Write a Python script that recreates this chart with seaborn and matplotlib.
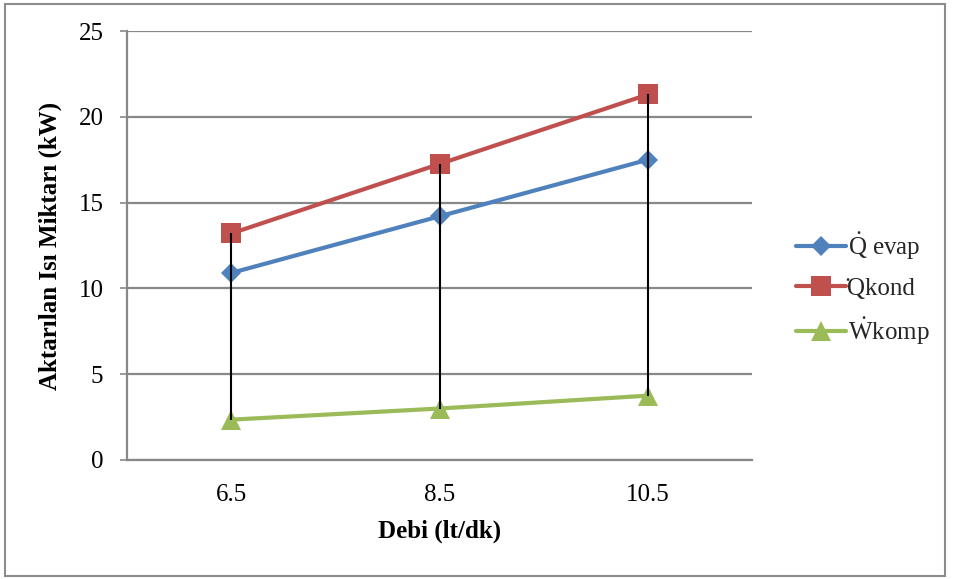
import matplotlib
matplotlib.use("Agg")
import matplotlib.pyplot as plt
import seaborn as sns
import pandas as pd
from matplotlib.patches import Rectangle

categories = ["6.5", "8.5", "10.5"]
q_evap = [10.9, 14.2, 17.5]
q_kond = [13.2, 17.25, 21.3]
w_komp = [2.35, 3.0, 3.75]
series_names = [r"$\mathrm{\dot{Q}}$ evap", "\u0307Qkond", r"$\mathrm{\dot{W}}$komp"]
y_ticks = [0, 5, 10, 15, 20, 25]

sns.set_theme(style="white")
plt.rcParams["font.family"] = ["Liberation Serif", "DejaVu Serif"]
plt.rcParams["mathtext.fontset"] = "custom"
plt.rcParams["mathtext.rm"] = "Liberation Serif"
plt.rcParams["mathtext.it"] = "Liberation Serif:italic"
plt.rcParams["mathtext.bf"] = "Liberation Serif:bold"

colors = ["#4F81BD", "#C0504D", "#9BBB59"]
markers = ["D", "s", "^"]
msizes = [10.5, 14, 14.5]

fig = plt.figure(figsize=(9.55, 5.79), dpi=100)
ax = fig.add_axes([127/955, 1-460/579, (752-127)/955, (460-31)/579])

for name, vals, col, mk, ms in zip(series_names, [q_evap, q_kond, w_komp], colors, markers, msizes):
    d = pd.DataFrame({"Debi": categories, "Value": vals})
    sns.lineplot(data=d, x="Debi", y="Value", ax=ax, color=col, marker=mk,
                 markersize=ms, markeredgewidth=0, linewidth=3.0, sort=False, label=name)

# high-low lines
xs = list(range(len(categories)))
lows = [min(a, b, c) for a, b, c in zip(q_evap, q_kond, w_komp)]
highs = [max(a, b, c) for a, b, c in zip(q_evap, q_kond, w_komp)]
ax.vlines(xs, lows, highs, colors="black", linewidth=1.5, zorder=5)

ax.set_xlim(-0.5, 2.5)
ax.set_ylim(0, 25)
ax.set_yticks(y_ticks)
ax.set_yticklabels([str(t) for t in y_ticks])
ax.yaxis.grid(True, color="#888888", linewidth=1.6)
ax.xaxis.grid(False)
ax.set_axisbelow(True)
for s in ["top", "right"]:
    ax.spines[s].set_visible(False)
for s in ["left", "bottom"]:
    ax.spines[s].set_color("#888888")
    ax.spines[s].set_linewidth(1.6)
ax.tick_params(axis="y", left=True, length=5, width=1.2, color="#888888",
               pad=12, labelsize=18, labelcolor="black")
ax.tick_params(axis="x", bottom=False, length=0, pad=17, labelsize=18, labelcolor="black")

ax.set_xlabel("Debi (lt/dk)", fontsize=18, fontweight="bold", color="black", labelpad=10)
ax.set_ylabel("Aktarılan Isı Miktarı (kW)", fontsize=18, fontweight="bold", color="black", labelpad=12)

handles, labels = ax.get_legend_handles_labels()
leg = ax.legend(handles, labels, loc="center left", bbox_to_anchor=(1.035, 0.40),
                frameon=False, fontsize=18, handlelength=2.0, handletextpad=0.05,
                labelspacing=0.62)

fig.patches.append(Rectangle((5/955, 3/579), (945-5)/955, (575-3)/579,
                             transform=fig.transFigure, fill=False,
                             edgecolor="#8C8C8C", linewidth=1.5))

fig.savefig("out.png", dpi=100)
